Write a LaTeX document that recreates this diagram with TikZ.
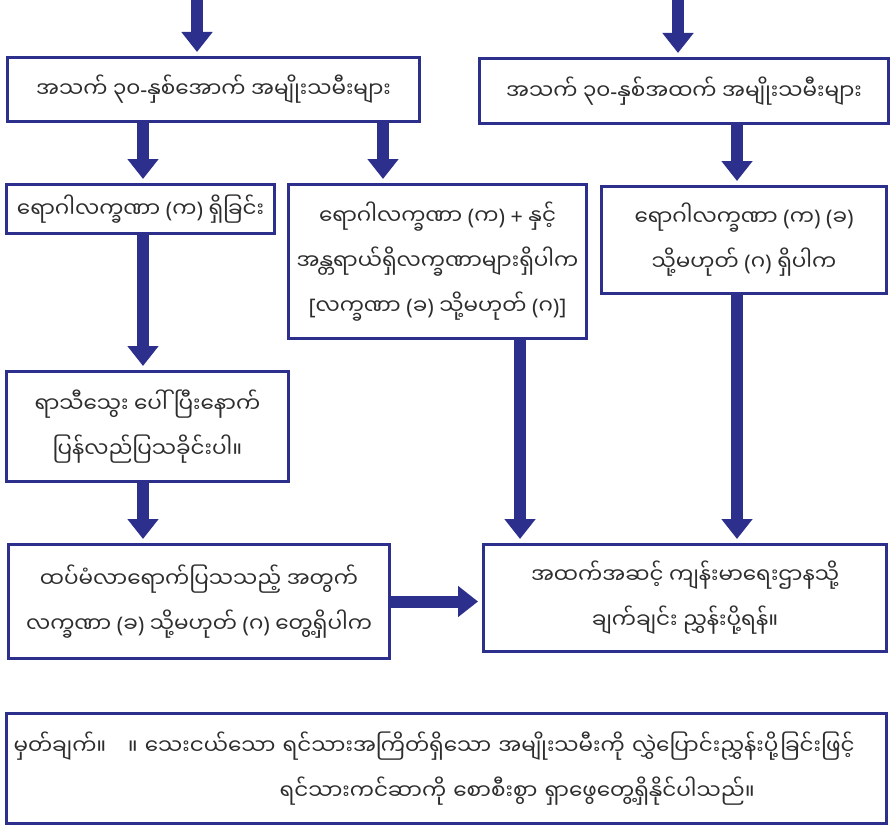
\documentclass[tikz,border=0pt]{standalone}
\usepackage{fontspec}
\newfontfamily\mmfont[Script=Myanmar]{Noto Sans Myanmar UI}
\newfontfamily\latfont{Noto Sans}
\usetikzlibrary{arrows.meta,positioning}
\definecolor{navy}{RGB}{44,47,140}
\definecolor{inkgray}{RGB}{45,45,45}
% punctuation from a font that has it
\newcommand\pk[1]{{\latfont(}#1{\latfont)}}
\newcommand\lt[1]{{\latfont#1}}

\tikzset{
  box/.style={draw=navy, line width=3pt, fill=white, anchor=north west,
    inner sep=0pt, align=center, text=inkgray,
    font=\mmfont\fontsize{21.5}{45}\selectfont},
  bigarrow/.style={navy, line width=12pt,
    -{Triangle[width=30pt,length=20pt]}, shorten >=4pt}
}

\begin{document}
\begin{tikzpicture}[x=1pt,y=-1pt]
    \useasboundingbox (0,0) rectangle (890,832);
    % boxes
    \node[box, minimum width=412pt, minimum height=64pt] (young) at (6,56)
{အသက် ၃၀\lt{-}နှစ်အောက် အမျိုးသမီးများ};
    \node[box, minimum width=409pt, minimum height=65pt] (older) at (478,57)
{အသက် ၃၀\lt{-}နှစ်အထက် အမျိုးသမီးများ};
    \node[box, minimum width=268pt, minimum height=49pt] (signA) at (5,183)
{ရောဂါလက္ခဏာ \pk{က} ရှိခြင်း};
    \node[box, minimum width=298pt, minimum height=154pt] (signAplus) at (287,183)
{ရောဂါလက္ခဏာ \pk{က} \lt{+} နှင့်\\ အန္တရာယ်ရှိလက္ခဏာများရှိပါက\\ \lt{[}လက္ခဏာ \pk{ခ} သို့မဟုတ် \pk{ဂ}\lt{]}};
    \node[box, minimum width=285pt, minimum height=107pt] (signABC) at (600,185)
{ရောဂါလက္ခဏာ \pk{က} \pk{ခ}\\ သို့မဟုတ် \pk{ဂ} ရှိပါက};
    \node[box, minimum width=282pt, minimum height=110pt] (recheck) at (5,370)
{ရာသီသွေး ပေါ်ပြီးနောက်\\ ပြန်လည်ပြသခိုင်းပါ။};
    \node[box, minimum width=381pt, minimum height=114pt] (revisit) at (7,543)
{ထပ်မံလာရောက်ပြသသည့် အတွက်\\ လက္ခဏာ \pk{ခ} သို့မဟုတ် \pk{ဂ} တွေ့ရှိပါက};
    \node[box, minimum width=403pt, minimum height=107pt] (refer) at (482,543)
{အထက်အဆင့် ကျန်းမာရေးဌာနသို့\\ ချက်ချင်း ညွှန်းပို့ရန်။};
    \node[box, align=left, text width=866pt, inner xsep=7pt,
          minimum height=110pt] (note) at (5,712)
{မှတ်ချက်။\quad ။ သေးငယ်သော ရင်သားအကြိတ်ရှိသော အမျိုးသမီးကို လွှဲပြောင်းညွှန်းပို့ခြင်းဖြင့်\\
\hspace*{266pt}ရင်သားကင်ဆာကို စောစီးစွာ ရှာဖွေတွေ့ရှိနိုင်ပါသည်။};
    % arrows
    \coordinate (topL) at (197,0);
    \coordinate (topR) at (678,0);
    \draw[bigarrow] (topL) -- (topL |- young.north);
    \draw[bigarrow] (topR) -- (topR |- older.north);
    \draw[bigarrow] (143,0 |- young.south) -- (143,0 |- signA.north);
    \draw[bigarrow] (383,0 |- young.south) -- (383,0 |- signAplus.north);
    \draw[bigarrow] (737,0 |- older.south) -- (737,0 |- signABC.north);
    \draw[bigarrow] (143,0 |- signA.south) -- (143,0 |- recheck.north);
    \draw[bigarrow] (143,0 |- recheck.south) -- (143,0 |- revisit.north);
    \draw[bigarrow] (520,0 |- signAplus.south) -- (520,0 |- refer.north);
    \draw[bigarrow] (737,0 |- signABC.south) -- (737,0 |- refer.north);
    \draw[bigarrow] (revisit.east) -- (revisit.east -| refer.west);
\end{tikzpicture}
\end{document}
